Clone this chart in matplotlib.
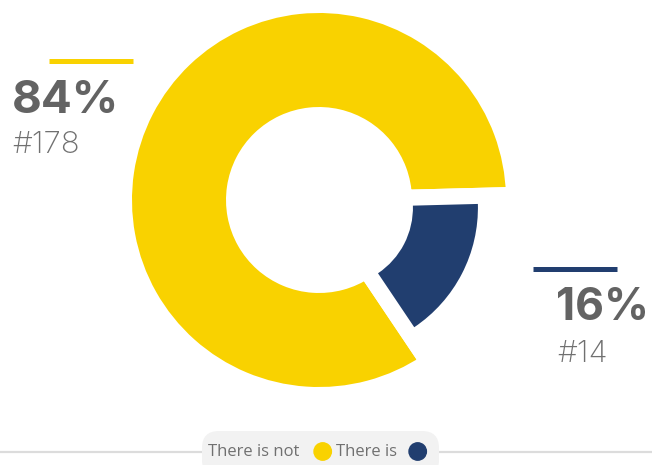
import matplotlib
matplotlib.use("Agg")
import matplotlib.pyplot as plt
from matplotlib.patches import FancyBboxPatch, Circle

# Survey answer split
categories = ["There is not", "There is"]
percentages = [84, 16]
counts = [178, 14]
colors = ["#F9D200", "#213E6F"]

W, H = 652, 465
fig = plt.figure(figsize=(W / 100, H / 100), dpi=100)
ax = fig.add_axes([0, 0, 1, 1])

# pixel-like coordinate system (y grows upward)
cx, cy = 319, 265

# large ring slice ("There is not"), white outline cuts the gaps
ax.pie(percentages, radius=195, center=(cx, cy), startangle=1.5,
       colors=[colors[0], "none"],
       wedgeprops=dict(width=110, edgecolor="white", linewidth=11.5,
                       joinstyle="miter"))
# smaller, pulled-out slice ("There is")
ax.pie(percentages, radius=144, center=(cx, cy), startangle=1.5,
       colors=["none", colors[1]], explode=[0, 16.8],
       wedgeprops=dict(width=65, linewidth=0))

ax.set_xlim(0, W)
ax.set_ylim(0, H)
ax.set_aspect("equal")
ax.axis("off")

dark = "#636363"
light = "#707070"
num_font = "Inter"

# value callouts
ax.plot([49, 133], [H - 61.5, H - 61.5], color=colors[0], lw=3.6,
        solid_capstyle="butt")
ax.text(12, H - 113, f"{percentages[0]}%", fontsize=33, fontweight="bold",
        family=num_font, color=dark, ha="left", va="baseline")
ax.text(12.5, H - 153, f"#{counts[0]}", fontsize=22.5, fontweight="light",
        family=num_font, color=light, ha="left", va="baseline")

ax.plot([533, 617], [H - 269, H - 269], color=colors[1], lw=3.6,
        solid_capstyle="butt")
ax.text(556.5, H - 320, f"{percentages[1]}%", fontsize=32, fontweight="bold",
        family=num_font, color=dark, ha="left", va="baseline")
ax.text(557, H - 361.5, f"#{counts[1]}", fontsize=22.5, fontweight="light",
        family=num_font, color=light, ha="left", va="baseline")

# legend bar along the bottom
ly = H - 451.5
ax.plot([0, W], [ly, ly], color="#dcdcdc", lw=1.6, zorder=1)
pill = FancyBboxPatch((202, -12), 237, 46,
                      boxstyle="round,pad=0,rounding_size=17",
                      facecolor="#f2f2f2", edgecolor="none", zorder=2)
ax.add_patch(pill)
ax.text(208, H - 455.5, categories[0], fontsize=12, family="Open Sans",
        color=light, ha="left", va="baseline", zorder=3)
ax.add_patch(Circle((322.7, ly), 8.7, color=colors[0], zorder=3))
ax.text(336.5, H - 455.5, categories[1], fontsize=12, family="Open Sans",
        color=light, ha="left", va="baseline", zorder=3)
ax.add_patch(Circle((417.7, ly), 8.7, color=colors[1], zorder=3))

fig.savefig("out.png", dpi=100)
